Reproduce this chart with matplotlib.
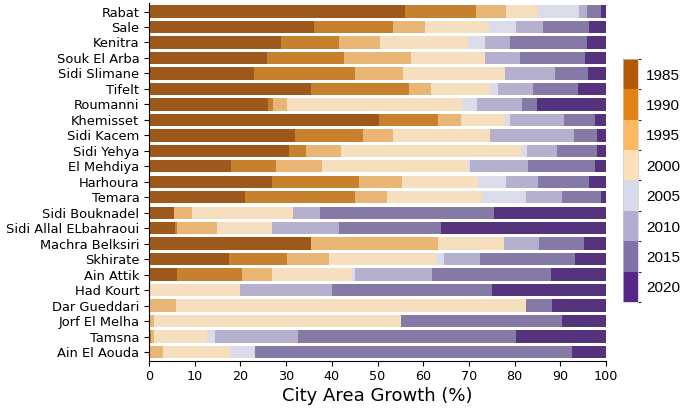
import colorsys
import numpy as np
import matplotlib
matplotlib.use("Agg")
import matplotlib.pyplot as plt
from matplotlib.colors import ListedColormap, BoundaryNorm, to_rgb
from matplotlib.cm import ScalarMappable

cities = ["Rabat", "Sale", "Kenitra", "Souk El Arba", "Sidi Slimane", "Tifelt",
          "Roumanni", "Khemisset", "Sidi Kacem", "Sidi Yehya", "El Mehdiya",
          "Harhoura", "Temara", "Sidi Bouknadel", "Sidi Allal ELbahraoui",
          "Machra Belksiri", "Skhirate", "Ain Attik", "Had Kourt", "Dar Gueddari",
          "Jorf El Melha", "Tamsna", "Ain El Aouda"]
years = [1985, 1990, 1995, 2000, 2005, 2010, 2015, 2020]

y1985 = [56.0, 36.2, 28.8, 25.9, 22.9, 35.4, 26.0, 50.3, 31.9, 30.6, 18.0, 27.0, 20.9, 5.4, 5.7, 35.5, 17.4, 6.1, 0, 0, 0, 0, 0]
y1990 = [15.5, 17.2, 12.7, 16.8, 22.2, 21.6, 1.1, 12.9, 14.9, 3.7, 9.7, 18.9, 24.1, 0, 0.4, 0, 12.8, 14.3, 0, 0, 0, 0.5, 0]
y1995 = [6.6, 6.9, 9.0, 14.6, 10.5, 4.6, 3.2, 5.0, 6.7, 7.8, 10.1, 9.4, 7.0, 3.9, 8.7, 27.8, 9.2, 6.6, 0, 5.8, 1.2, 0.7, 3.0]
y2000 = [7.1, 14.0, 19.2, 16.3, 22.3, 13.0, 38.2, 9.8, 21.2, 39.2, 32.1, 16.8, 20.8, 22.2, 12.1, 14.4, 23.7, 17.4, 19.9, 76.6, 54.0, 11.4, 14.8]
y2005 = [8.9, 6.0, 3.8, 0, 0, 1.8, 3.2, 1.0, 0, 1.5, 0.3, 6.1, 9.7, 0, 0, 0, 1.5, 0.6, 0, 0, 0, 1.9, 5.3]
y2010 = [1.8, 5.9, 5.5, 7.6, 11.0, 7.7, 9.9, 11.9, 18.3, 6.4, 12.7, 6.9, 7.9, 6.0, 14.6, 7.6, 7.8, 17.0, 20.1, 0, 0, 18.0, 0]
y2015 = [2.9, 10.1, 16.8, 14.3, 7.2, 9.8, 3.2, 6.7, 5.0, 8.8, 14.8, 11.1, 8.5, 38.1, 22.4, 9.9, 20.8, 25.9, 35.0, 5.8, 35.2, 47.8, 69.5]
y2020 = [1.2, 3.7, 4.2, 4.5, 3.9, 6.1, 15.2, 2.4, 2.0, 2.0, 2.3, 3.8, 1.1, 24.4, 36.1, 4.8, 6.8, 12.1, 25.0, 11.8, 9.6, 19.7, 7.4]

series = [y1985, y1990, y1995, y2000, y2005, y2010, y2015, y2020]
palette = ["#b35806", "#e08214", "#fdb863", "#fee0b6", "#d8daeb", "#b2abd2", "#8073ac", "#542788"]


def desaturate(c, prop=0.75):
    h, l, s = colorsys.rgb_to_hls(*to_rgb(c))
    return colorsys.hls_to_rgb(h, l, s * prop)


fig = plt.figure(figsize=(6.83, 4.11), dpi=100)
ax = fig.add_axes([149 / 683, 1 - 360.5 / 411, (606 - 149) / 683, 357.5 / 411])

ypos = np.arange(len(cities))
left = np.zeros(len(cities))
for vals, col in zip(series, palette):
    v = np.array(vals, dtype=float)
    ax.barh(ypos, v, left=left, height=0.8, color=desaturate(col), linewidth=0)
    left += v

ax.set_xlim(0, 100)
ax.set_ylim(len(cities) - 1 + 0.55, -0.55)
ax.set_yticks(ypos)
ax.set_yticklabels(cities, fontsize=9.4)
ax.set_xticks(np.arange(0, 101, 10))
ax.tick_params(axis="x", labelsize=9.2)
ax.set_xlabel("City Area Growth (%)", fontsize=13, labelpad=3)
ax.spines["top"].set_visible(False)
ax.spines["right"].set_visible(False)

cmap = ListedColormap(palette)
bounds = np.arange(len(years) + 1)
norm = BoundaryNorm(bounds, cmap.N)
cax = fig.add_axes([623 / 683, 1 - 302 / 411, 14.5 / 683, 243 / 411])
sm = ScalarMappable(norm=norm, cmap=cmap)
cb = fig.colorbar(sm, cax=cax, ticks=np.arange(len(years)) + 0.5, drawedges=True)
cb.set_ticklabels([str(y) for y in years])
for lbl in cb.ax.get_yticklabels():
    lbl.set_family(["Liberation Sans", "DejaVu Sans"])
cb.ax.tick_params(length=0, labelsize=11, pad=6)
cb.ax.invert_yaxis()
cb.outline.set_edgecolor("#cccccc")
cb.outline.set_linewidth(0.5)
cb.dividers.set_color("#555555")
cb.dividers.set_linewidth(0.6)
cb.dividers.set_alpha(0.6)

fig.savefig("out.png", dpi=100)
